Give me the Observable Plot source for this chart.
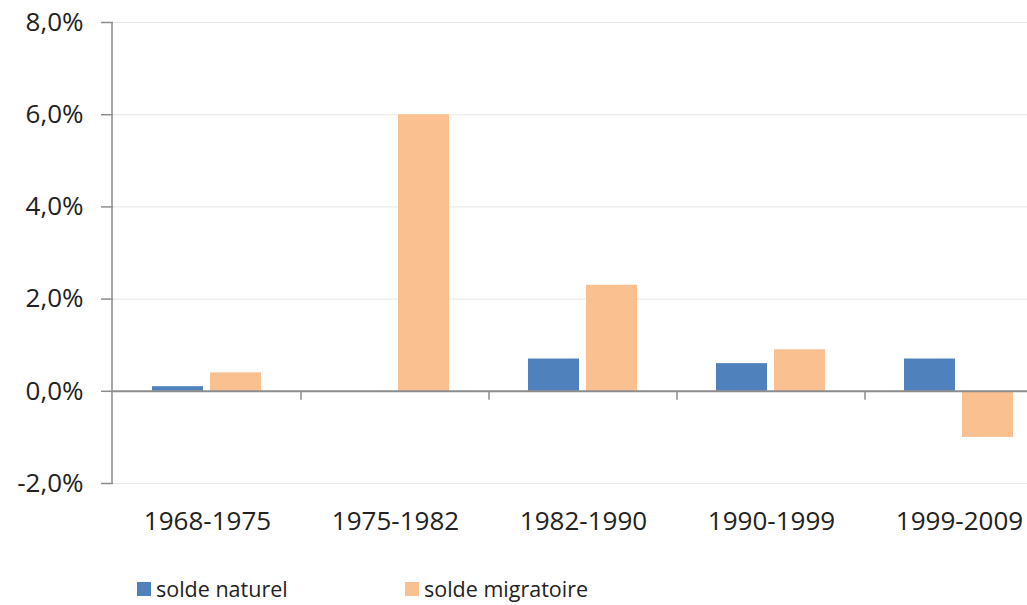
<!DOCTYPE html>
<html><head><meta charset="utf-8">
<script src="https://cdn.jsdelivr.net/npm/d3@7"></script>
<script src="https://cdn.jsdelivr.net/npm/@observablehq/plot@0.6"></script>
<style>
html,body{margin:0;padding:0;background:#fff;overflow:hidden;}
#chart svg{display:block;}
.legend{display:flex;align-items:center;height:45px;padding-top:6px;font-family:"Open Sans",sans-serif;font-size:21.5px;color:#222;}
.legend .item{display:flex;align-items:center;}
.legend .sw{display:inline-block;width:14px;height:14px;margin-right:5px;}
</style></head><body><div id="chart"></div>
<script>
const periods = ["1968-1975","1975-1982","1982-1990","1990-1999","1999-2009"];
const series = ["solde naturel","solde migratoire"];
const soldeNaturel = [0.1, 0.0, 0.7, 0.6, 0.7];
const soldeMigratoire = [0.4, 6.0, 2.3, 0.9, -1.0];
const yTicks = [-2, 0, 2, 4, 6, 8];
const colors = ["#4F81BD", "#FAC090"];

const rows = periods.flatMap((p, i) => [
  {period: p, serie: series[0], value: soldeNaturel[i]},
  {period: p, serie: series[1], value: soldeMigratoire[i]}
]);
const fmt = d => d.toFixed(1).replace(".", ",").replace("−", "-") + "%";

const plot = Plot.plot({
  width: 1027, height: 560,
  marginTop: 22, marginBottom: 77, marginLeft: 112, marginRight: 0,
  style: {fontFamily: "'Open Sans', sans-serif", fontSize: "26px", color: "#222", background: "#fff", overflow: "visible"},
  fx: {domain: periods, range: [112, 1053], padding: 0, label: null},
  x: {domain: series, paddingInner: 0.1186, paddingOuter: 0.654, axis: null},
  y: {domain: [-2, 8], label: null},
  color: {domain: series, range: colors},
  marks: [
    Plot.gridY(yTicks, {stroke: "#e8e8e8", strokeOpacity: 1}),
    Plot.barY(rows, {fx: "period", x: "serie", y: "value", fill: "serie"}),
    Plot.ruleY([0], {stroke: "#8c8c8c", strokeWidth: 2}),
    Plot.axisY(yTicks, {tickSize: 12, tickPadding: 18, tickFormat: fmt, stroke: "#8c8c8c", strokeWidth: 1.5, strokeOpacity: 1, fontSize: 26, label: null}),
    Plot.axisFx({anchor: "bottom", tickSize: 0, tickPadding: 28, fontSize: 26, label: null})
  ]
});
document.getElementById("chart").appendChild(plot);

const fxD = plot.scale("fx"), yD = plot.scale("y");
const fxA = fxD.apply ? fxD.apply : d3.scaleBand(fxD.domain, fxD.range);
const yA = yD.apply ? yD.apply : d3.scaleLinear(yD.domain, yD.range);
const g = d3.select(plot).append("g").attr("stroke", "#8c8c8c").attr("stroke-width", 1.5);
const x0 = fxD.range[0];
g.append("line").attr("x1", x0).attr("x2", x0).attr("y1", yA(8)).attr("y2", yA(-2));
periods.slice(1).forEach(p => {
  const xb = fxA(p);
  g.append("line").attr("x1", xb).attr("x2", xb).attr("y1", yA(0)).attr("y2", yA(0) + 9);
});

const legend = d3.select("body").append("div").attr("class", "legend");
series.forEach((s, i) => {
  const it = legend.append("span").attr("class", "item")
    .style("margin-left", i === 0 ? "137px" : "0px")
    .style("width", i === 0 ? "268px" : "auto");
  it.append("span").attr("class", "sw").style("background", colors[i]);
  it.append("span").text(s);
});
</script>
</body></html>
